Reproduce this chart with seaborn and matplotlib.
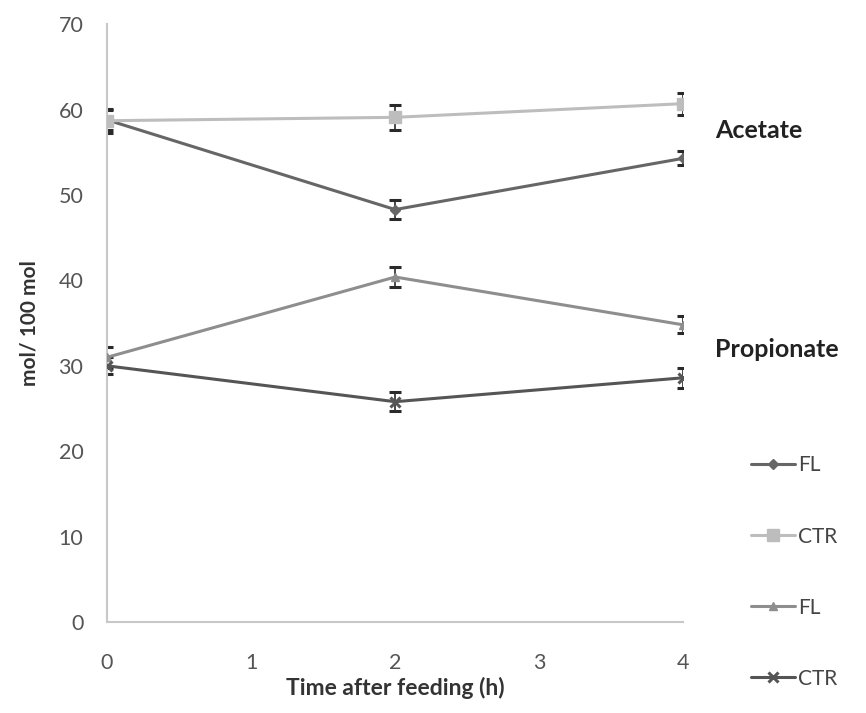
import matplotlib
matplotlib.use("Agg")
import matplotlib.pyplot as plt
import seaborn as sns
import pandas as pd

# Sampling times (h after feeding)
hours = [0, 2, 4]

# Molar proportions (mol/100 mol) and their standard errors
acetate_fl = [58.8, 48.3, 54.3]
acetate_fl_err = [1.2, 1.1, 0.8]
acetate_ctr = [58.7, 59.1, 60.7]
acetate_ctr_err = [1.4, 1.5, 1.3]
propionate_fl = [31.0, 40.4, 34.8]
propionate_fl_err = [1.2, 1.2, 1.0]
propionate_ctr = [30.0, 25.8, 28.6]
propionate_ctr_err = [1.0, 1.1, 1.2]

series_names = ["Acetate FL", "Acetate CTR", "Propionate FL", "Propionate CTR"]
legend_labels = ["FL", "CTR", "FL", "CTR"]
values = [acetate_fl, acetate_ctr, propionate_fl, propionate_ctr]
errors = [acetate_fl_err, acetate_ctr_err, propionate_fl_err, propionate_ctr_err]

colors = {"Acetate FL": "#666666", "Acetate CTR": "#bdbdbd",
          "Propionate FL": "#8e8e8e", "Propionate CTR": "#555555"}
markers = {"Acetate FL": "D", "Acetate CTR": "s",
           "Propionate FL": "^", "Propionate CTR": "x"}
msizes = {"Acetate FL": 5, "Acetate CTR": 8, "Propionate FL": 6, "Propionate CTR": 7}

rows = []
for name, vals, errs in zip(series_names, values, errors):
    for h, v, e in zip(hours, vals, errs):
        rows.append({"hour": h, "value": v, "err": e, "series": name})
df = pd.DataFrame(rows)

sns.set_theme(style="white")
plt.rcParams["font.family"] = ["Lato", "DejaVu Sans"]

fig = plt.figure(figsize=(8.66, 7.13), dpi=100)
ax = fig.add_axes([0.1236, 0.1276, 0.789 - 0.1236, 0.966 - 0.1276])

for i, name in enumerate(series_names):
    sub = df[df["series"] == name]
    ax.errorbar(sub["hour"], sub["value"], yerr=sub["err"], fmt="none",
                ecolor="#2a2a2a", elinewidth=1.2, capsize=4, capthick=2.2, zorder=2)
    sns.lineplot(data=sub, x="hour", y="value", ax=ax, color=colors[name],
                 marker=markers[name], markersize=msizes[name],
                 markeredgecolor=colors[name], markeredgewidth=2.2 if markers[name] == "x" else 1,
                 linewidth=2.2, label=legend_labels[i], zorder=3)

ax.set_xlim(0, 4)
ax.set_ylim(0, 70)
ax.set_xticks([0, 1, 2, 3, 4])
ax.set_yticks(range(0, 71, 10))
ax.tick_params(axis="both", length=0, labelsize=15.5, labelcolor="#555555")
ax.tick_params(axis="x", pad=22)
ax.tick_params(axis="y", pad=17)
ax.set_xlabel("Time after feeding (h)", fontsize=16.5, fontweight="bold",
              color="#333333", labelpad=3)
ax.set_ylabel("mol/ 100 mol", fontsize=15, fontweight="bold",
              color="#333333", labelpad=14)

for side in ["top", "right"]:
    ax.spines[side].set_visible(False)
for side in ["left", "bottom"]:
    ax.spines[side].set_color("#c8c8c8")
    ax.spines[side].set_linewidth(1.5)

ax.text(4.22, 57.6, "Acetate", fontsize=18, fontweight="bold", color="#222222",
        ha="left", va="center", clip_on=False)
ax.text(4.22, 31.9, "Propionate", fontsize=18, fontweight="bold", color="#222222",
        ha="left", va="center", clip_on=False)

ax.legend(loc="upper left", bbox_to_anchor=(1.085, 0.31), frameon=False,
          fontsize=15, labelspacing=2.45, handlelength=2.1, handletextpad=0.15,
          labelcolor="#444444")

fig.savefig("out.png", dpi=100, facecolor="white")
